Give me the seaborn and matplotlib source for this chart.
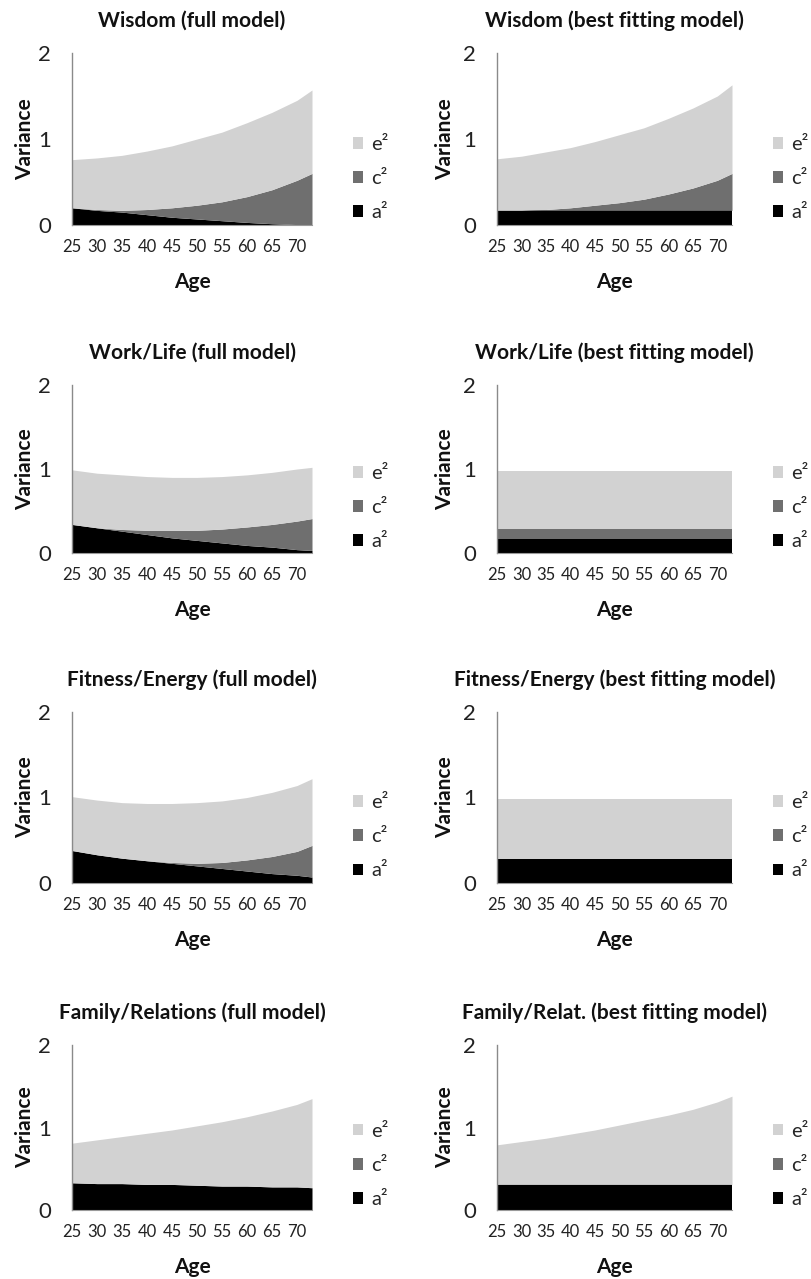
"""Stacked variance components (a2, c2, e2) by age, full vs best fitting model."""

import matplotlib
matplotlib.use("Agg")
import matplotlib.pyplot as plt
import seaborn as sns

AGES = [25, 30, 35, 40, 45, 50, 55, 60, 65, 70, 73]
AGE_TICKS = [25, 30, 35, 40, 45, 50, 55, 60, 65, 70]
COMPONENTS = ["a²", "c²", "e²"]

# Wisdom
WISDOM_FULL_A = [0.20, 0.17, 0.15, 0.12, 0.09, 0.07, 0.05, 0.03, 0.015, 0.005, 0.00]
WISDOM_FULL_C = [0.00, 0.01, 0.02, 0.06, 0.11, 0.16, 0.22, 0.30, 0.395, 0.515, 0.60]
WISDOM_FULL_E = [0.56, 0.60, 0.64, 0.68, 0.72, 0.77, 0.81, 0.86, 0.90, 0.93, 0.97]
WISDOM_BEST_A = [0.17, 0.17, 0.17, 0.17, 0.17, 0.17, 0.17, 0.17, 0.17, 0.17, 0.17]
WISDOM_BEST_C = [0.00, 0.00, 0.01, 0.03, 0.06, 0.09, 0.13, 0.19, 0.26, 0.35, 0.43]
WISDOM_BEST_E = [0.60, 0.63, 0.67, 0.70, 0.74, 0.79, 0.83, 0.88, 0.93, 0.98, 1.03]

# Work/Life
WORK_FULL_A = [0.34, 0.30, 0.26, 0.22, 0.18, 0.15, 0.12, 0.09, 0.07, 0.04, 0.03]
WORK_FULL_C = [0.00, 0.00, 0.02, 0.05, 0.09, 0.12, 0.165, 0.22, 0.27, 0.34, 0.38]
WORK_FULL_E = [0.65, 0.65, 0.65, 0.64, 0.63, 0.63, 0.625, 0.62, 0.62, 0.62, 0.61]
WORK_BEST_A = [0.17, 0.17, 0.17, 0.17, 0.17, 0.17, 0.17, 0.17, 0.17, 0.17, 0.17]
WORK_BEST_C = [0.11, 0.11, 0.11, 0.11, 0.11, 0.11, 0.11, 0.11, 0.11, 0.11, 0.11]
WORK_BEST_E = [0.70, 0.70, 0.70, 0.70, 0.70, 0.70, 0.70, 0.70, 0.70, 0.70, 0.70]

# Fitness/Energy
FITNESS_FULL_A = [0.38, 0.33, 0.29, 0.26, 0.23, 0.20, 0.17, 0.14, 0.11, 0.09, 0.07]
FITNESS_FULL_C = [0.00, 0.00, 0.00, 0.00, 0.01, 0.03, 0.07, 0.13, 0.20, 0.28, 0.37]
FITNESS_FULL_E = [0.63, 0.64, 0.65, 0.67, 0.69, 0.71, 0.72, 0.73, 0.75, 0.77, 0.78]
FITNESS_BEST_A = [0.28, 0.28, 0.28, 0.28, 0.28, 0.28, 0.28, 0.28, 0.28, 0.28, 0.28]
FITNESS_BEST_C = [0.00, 0.00, 0.00, 0.00, 0.00, 0.00, 0.00, 0.00, 0.00, 0.00, 0.00]
FITNESS_BEST_E = [0.70, 0.70, 0.70, 0.70, 0.70, 0.70, 0.70, 0.70, 0.70, 0.70, 0.70]

# Family/Relations
FAMILY_FULL_A = [0.33, 0.32, 0.32, 0.31, 0.31, 0.30, 0.29, 0.29, 0.28, 0.28, 0.27]
FAMILY_FULL_C = [0.00, 0.00, 0.00, 0.00, 0.00, 0.00, 0.00, 0.00, 0.00, 0.00, 0.00]
FAMILY_FULL_E = [0.48, 0.53, 0.57, 0.62, 0.66, 0.72, 0.78, 0.84, 0.92, 1.00, 1.08]
FAMILY_BEST_A = [0.31, 0.31, 0.31, 0.31, 0.31, 0.31, 0.31, 0.31, 0.31, 0.31, 0.31]
FAMILY_BEST_C = [0.00, 0.00, 0.00, 0.00, 0.00, 0.00, 0.00, 0.00, 0.00, 0.00, 0.00]
FAMILY_BEST_E = [0.48, 0.52, 0.56, 0.61, 0.66, 0.72, 0.78, 0.84, 0.91, 1.00, 1.07]

PANELS = [
    ("Wisdom (full model)", WISDOM_FULL_A, WISDOM_FULL_C, WISDOM_FULL_E),
    ("Wisdom (best fitting model)", WISDOM_BEST_A, WISDOM_BEST_C, WISDOM_BEST_E),
    ("Work/Life (full model)", WORK_FULL_A, WORK_FULL_C, WORK_FULL_E),
    ("Work/Life (best fitting model)", WORK_BEST_A, WORK_BEST_C, WORK_BEST_E),
    ("Fitness/Energy (full model)", FITNESS_FULL_A, FITNESS_FULL_C, FITNESS_FULL_E),
    ("Fitness/Energy (best fitting model)", FITNESS_BEST_A, FITNESS_BEST_C, FITNESS_BEST_E),
    ("Family/Relations (full model)", FAMILY_FULL_A, FAMILY_FULL_C, FAMILY_FULL_E),
    ("Family/Relat. (best fitting model)", FAMILY_BEST_A, FAMILY_BEST_C, FAMILY_BEST_E),
]

COLORS = ["#000000", "#6f6f6f", "#d2d2d2"]

W, H = 811, 1279
COLS = [(72, 312), (497, 732)]
ROWS = [(53, 225), (385, 553), (712, 883), (1045, 1210)]

sns.set_theme(style="white")
plt.rcParams["font.family"] = ["Lato", "DejaVu Sans"]


def draw_panel(ax, title, a, c, e):
    ax.stackplot(AGES, a, c, e, colors=COLORS, labels=COMPONENTS, linewidth=0)
    ax.set_xlim(25, 73)
    ax.set_ylim(0, 2)
    ax.set_xticks(AGE_TICKS)
    ax.set_xticklabels([str(t) for t in AGE_TICKS], fontsize=12, color="#222222")
    ax.set_yticks([0, 1, 2])
    ax.set_yticklabels(["0", "1", "2"], fontsize=16, color="#222222")
    ax.tick_params(axis="x", length=0, pad=10)
    ax.tick_params(axis="y", length=0, pad=15)
    for side in ["top", "right"]:
        ax.spines[side].set_visible(False)
    ax.spines["left"].set_color("#8a8a8a")
    ax.spines["left"].set_linewidth(1.0)
    ax.spines["bottom"].set_color("#9a9a9a")
    ax.spines["bottom"].set_linewidth(0.8)
    ax.set_xlabel("Age", fontsize=15, fontweight="bold", va="center", color="#111111")
    ax.set_ylabel("Variance", fontsize=15, fontweight="bold", va="center", color="#111111")
    ax.set_title(title, fontsize=15, fontweight="bold", color="#111111", va="center", y=1.0, pad=0)
    handles, labels = ax.get_legend_handles_labels()
    ax.legend(handles[::-1], labels[::-1], loc="center left", frameon=False,
              fontsize=14.5, handlelength=0.5, handleheight=0.5, handletextpad=0.4,
              labelspacing=0.85, borderpad=0, borderaxespad=0)


fig = plt.figure(figsize=(W / 100, H / 100), dpi=100)
for i, (title, a, c, e) in enumerate(PANELS):
    (x0, x1), (y0, y1) = COLS[i % 2], ROWS[i // 2]
    ax = fig.add_axes([x0 / W, 1 - y1 / H, (x1 - x0) / W, (y1 - y0) / H])
    draw_panel(ax, title, a, c, e)
    hpx, wpx = y1 - y0, x1 - x0
    ax.title.set_y(1 + 32 / hpx)
    ax.xaxis.set_label_coords(0.5, -57 / hpx)
    ax.yaxis.set_label_coords(-(47 if i % 2 == 0 else 52) / wpx, 0.5)
    leg = ax.get_legend()
    leg.set_bbox_to_anchor((1 + (281 if i % 2 == 0 else 276) / wpx - 1, 0.27))

fig.savefig("out.png", dpi=100)
